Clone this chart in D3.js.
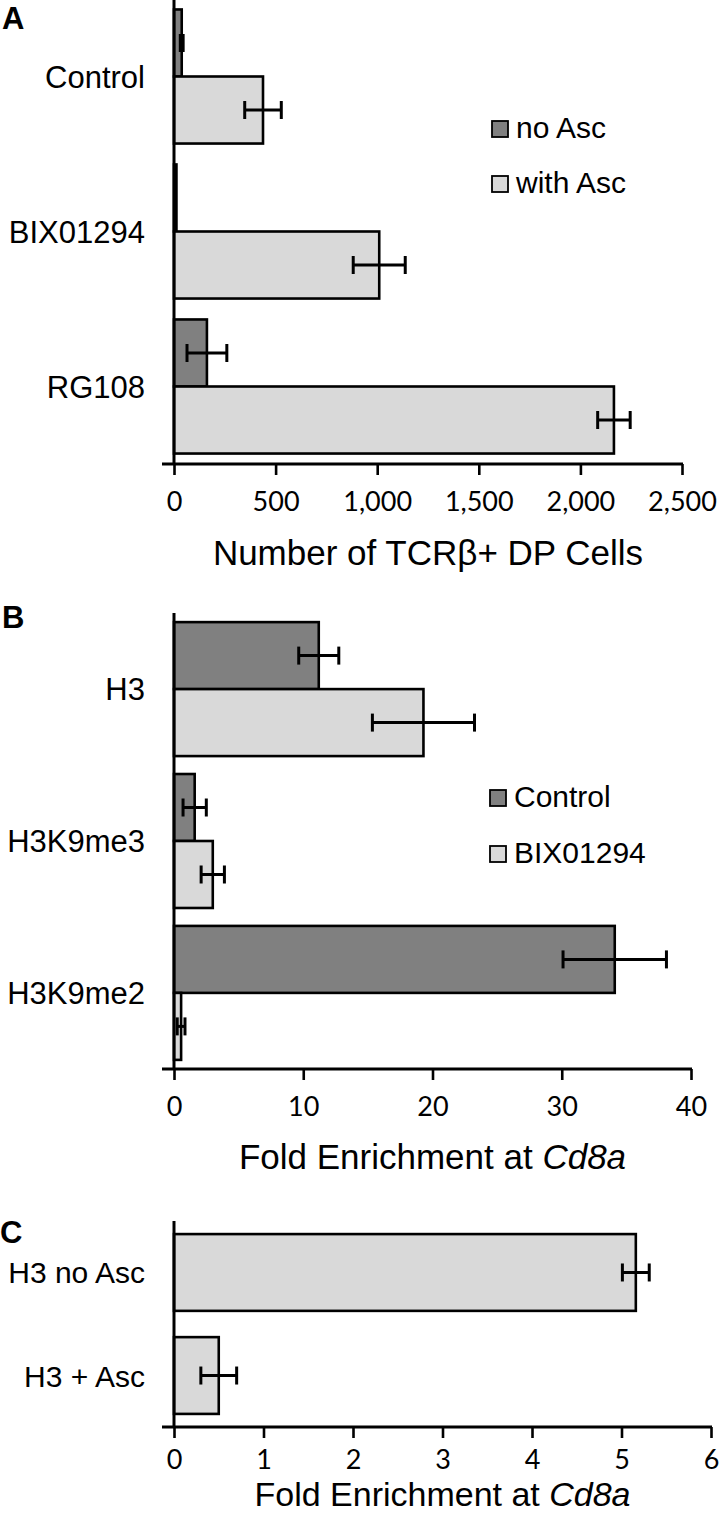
<!DOCTYPE html>
<html><head><meta charset="utf-8">
<script src="https://cdn.jsdelivr.net/npm/d3@7"></script>
<style>
html,body{margin:0;padding:0;background:#fff;}
svg{display:block;}
</style></head>
<body>
<svg id="chart" width="720" height="1513"></svg>
<script>
// ---------- DATA ----------
const categoriesA = ["Control", "BIX01294", "RG108"];
const seriesA = ["no Asc", "with Asc"];
const noAscValues = [38, 12, 162];
const noAscErrors = [7, 0, 98];
const withAscValues = [438, 1010, 2165];
const withAscErrors = [90, 128, 80];
const ticksA = [0, 500, 1000, 1500, 2000, 2500];

const categoriesB = ["H3", "H3K9me3", "H3K9me2"];
const seriesB = ["Control", "BIX01294"];
const controlValues = [11.2, 1.6, 34.1];
const controlErrors = [1.55, 0.9, 4.0];
const bixValues = [19.3, 3.0, 0.55];
const bixErrors = [3.95, 0.9, 0.3];
const ticksB = [0, 10, 20, 30, 40];

const categoriesC = ["H3 no Asc", "H3 + Asc"];
const valuesC = [5.16, 0.5];
const errorsC = [0.15, 0.2];
const ticksC = [0, 1, 2, 3, 4, 5, 6];

// ---------- STYLE ----------
const DARK = "#808080", LIGHT = "#d9d9d9";
const catFont = "'Liberation Sans', Arial, sans-serif";
const tickFont = "Lato, 'Open Sans', sans-serif";

const svg = d3.select("#chart");

function panel(opt) {
  const g = svg.append("g");
  const x = d3.scaleLinear().domain(opt.domain).range([174, opt.xMax]);
  const y = d3.scaleBand().domain(opt.categories).range([opt.top, opt.axisY])
    .paddingInner(opt.padIn).paddingOuter(opt.padOut);
  const nS = opt.series.length;
  const sub = d3.scaleBand().domain(d3.range(nS)).range([0, y.bandwidth()]);

  // bars
  opt.series.forEach((s, si) => {
    const rows = opt.categories.map((c, i) => ({c, v: s.values[i], e: s.errors[i]}));
    g.selectAll(null).data(rows).enter().append("rect")
      .attr("x", x(0))
      .attr("y", d => y(d.c) + sub(si))
      .attr("width", d => Math.max(0, x(d.v) - x(0)))
      .attr("height", sub.bandwidth())
      .attr("fill", s.color)
      .attr("stroke", "#000")
      .attr("stroke-width", 2.6);
  });
  // error bars
  opt.series.forEach((s, si) => {
    const rows = opt.categories.map((c, i) => ({c, v: s.values[i], e: s.errors[i]})).filter(d => d.e > 0);
    const eg = g.selectAll(null).data(rows).enter().append("g")
      .attr("stroke", "#000").attr("stroke-width", 3);
    const cy = d => y(d.c) + sub(si) + sub.bandwidth() / 2;
    eg.append("line").attr("x1", d => x(d.v - d.e)).attr("x2", d => x(d.v + d.e))
      .attr("y1", cy).attr("y2", cy);
    eg.append("line").attr("x1", d => x(d.v - d.e)).attr("x2", d => x(d.v - d.e))
      .attr("y1", d => cy(d) - 9).attr("y2", d => cy(d) + 9);
    eg.append("line").attr("x1", d => x(d.v + d.e)).attr("x2", d => x(d.v + d.e))
      .attr("y1", d => cy(d) - 9).attr("y2", d => cy(d) + 9);
  });

  // y axis line
  g.append("line").attr("x1", x(0)).attr("x2", x(0))
    .attr("y1", opt.top).attr("y2", opt.axisY)
    .attr("stroke", "#000").attr("stroke-width", 3);

  // x axis
  const ax = g.append("g").attr("transform", `translate(0,${opt.axisY})`)
    .call(d3.axisBottom(x).tickValues(opt.ticks).tickSize(11).tickSizeOuter(0)
      .tickFormat(opt.fmt));
  ax.select(".domain").attr("d", `M162,0H${opt.xMax + 1}`).attr("stroke", "#000").attr("stroke-width", 3);
  ax.selectAll(".tick line").attr("stroke", "#000").attr("stroke-width", 2.6);
  ax.selectAll(".tick text").attr("y", opt.tickDy).attr("dy", null)
    .attr("font-family", tickFont).attr("font-size", 27).attr("fill", "#000");

  // category labels
  g.selectAll(null).data(opt.categories).enter().append("text")
    .attr("x", 145).attr("y", d => y(d) + y.bandwidth() / 2 + 11)
    .attr("text-anchor", "end")
    .attr("font-family", catFont).attr("font-size", opt.catSize).attr("fill", "#000")
    .text(d => d);

  // axis title
  const t = g.append("text").attr("x", (x(0) + opt.xMax) / 2).attr("y", opt.axisY + opt.titleDy)
    .attr("text-anchor", "middle").attr("font-family", catFont).attr("font-size", opt.titleSize).attr("fill", "#000");
  opt.title.forEach(p => t.append("tspan").attr("font-style", p.italic ? "italic" : "normal").text(p.t));

  // panel letter
  g.append("text").attr("x", opt.letterX).attr("y", opt.letterY)
    .attr("font-family", catFont).attr("font-weight", "bold").attr("font-size", 31)
    .attr("fill", "#000").text(opt.letter);

  // legend
  if (opt.legend) {
    opt.series.forEach((s, si) => {
      const ly = opt.legend.y + si * opt.legend.step;
      g.append("rect").attr("x", opt.legend.x).attr("y", ly).attr("width", 16).attr("height", 16)
        .attr("fill", s.color).attr("stroke", "#000").attr("stroke-width", 1.8);
      g.append("text").attr("x", opt.legend.x + 24).attr("y", ly + 17)
        .attr("font-family", catFont).attr("font-size", 30).attr("fill", "#000").text(s.name);
    });
  }
}

panel({
  letter: "A", letterX: 2, letterY: 29,
  categories: categoriesA,
  series: [
    {name: seriesA[0], values: noAscValues, errors: noAscErrors, color: DARK},
    {name: seriesA[1], values: withAscValues, errors: withAscErrors, color: LIGHT}
  ],
  domain: [0, 2500], xMax: 682, ticks: ticksA, fmt: d3.format(","),
  top: -1, axisY: 464, padIn: 0.135, padOut: 0.0675,
  tickDy: 47, titleDy: 101, titleSize: 35, catSize: 31,
  title: [{t: "Number of TCRβ+ DP Cells"}],
  legend: {x: 492, y: 121, step: 55}
});

panel({
  letter: "B", letterX: 2, letterY: 628,
  categories: categoriesB,
  series: [
    {name: seriesB[0], values: controlValues, errors: controlErrors, color: DARK},
    {name: seriesB[1], values: bixValues, errors: bixErrors, color: LIGHT}
  ],
  domain: [0, 40], xMax: 691, ticks: ticksB, fmt: d3.format("d"),
  top: 613, axisY: 1069, padIn: 0.118, padOut: 0.06,
  tickDy: 47, titleDy: 100, titleSize: 35, catSize: 31,
  title: [{t: "Fold Enrichment at "}, {t: "Cd8a", italic: true}],
  legend: {x: 490, y: 790, step: 56}
});

panel({
  letter: "C", letterX: 0, letterY: 1243,
  categories: categoriesC,
  series: [
    {name: "H3", values: valuesC, errors: errorsC, color: LIGHT}
  ],
  domain: [0, 6], xMax: 711, ticks: ticksC, fmt: d3.format("d"),
  top: 1221, axisY: 1427, padIn: 0.255, padOut: 0.127,
  tickDy: 42, titleDy: 79, titleSize: 34, catSize: 30,
  title: [{t: "Fold Enrichment at "}, {t: "Cd8a", italic: true}],
  legend: null
});
</script>
</body></html>
